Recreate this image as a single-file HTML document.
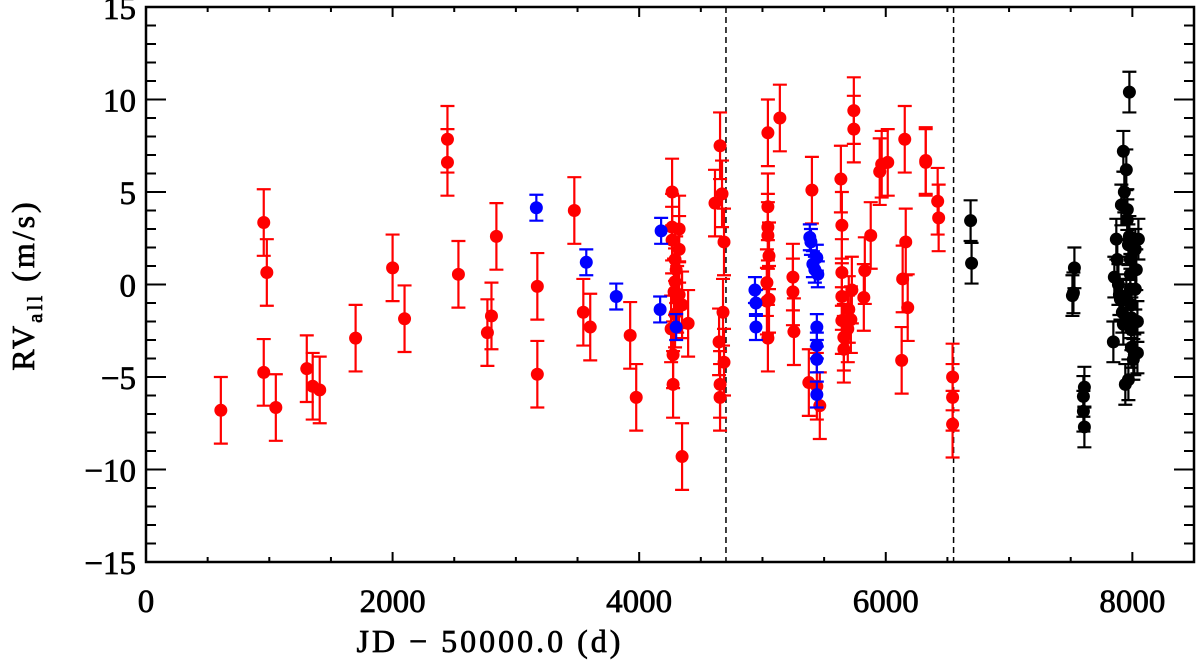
<!DOCTYPE html>
<html><head><meta charset="utf-8"><style>
html,body{margin:0;padding:0;background:#fff;}
svg{display:block;font-family:"Liberation Serif",serif;}
</style></head><body>
<svg id="chart" width="1200" height="665" viewBox="0 0 1200 665"></svg>
<script>
const redD=[607,955,955,980,1053,1304,1352,1409,1700,2000,2097,2445,2445,2534,2769,2802,2842,3174,3174,3474,3547,3603,3927,3976,4267,4267,4267,4291,4300,4291,4283,4308,4291,4275,4275,4259,4324,4324,4324,4348,4348,4397,4615,4656,4672,4688,4680,4648,4688,4656,4656,5036,5036,5044,5044,5044,5044,5044,5053,5053,5141,5247,5247,5255,5401,5376,5441,5465,5636,5644,5644,5644,5644,5660,5660,5692,5700,5717,5741,5741,5725,5822,5830,5878,5951,5967,6016,6137,6129,6154,6162,6178,6324,6324,6421,6429,6542,6542,6542];
const redV=[-6.8,3.35,-4.75,0.65,-6.65,-4.55,-5.5,-5.7,-2.9,0.9,-1.85,7.85,6.6,0.55,-2.6,-1.7,2.6,-4.85,-0.1,4.0,-1.5,-2.3,-2.75,-6.1,5.0,3.1,2.4,1.35,0.8,0.15,-0.4,-0.8,-1.6,-3.8,-5.4,-2.4,3.0,1.9,-0.55,-1.1,-9.3,-2.1,4.4,7.5,4.9,2.3,-1.5,-3.1,-4.2,-5.4,-6.1,0.1,-0.9,-2.9,8.2,4.2,3.1,2.65,1.55,-0.8,9.0,0.4,-0.4,-2.55,5.1,-5.3,-5.5,-6.55,5.7,3.2,0.65,-0.65,-1.95,-3.5,-2.85,-2.4,-1.35,-1.9,9.4,8.4,-0.3,-0.7,0.75,2.65,6.1,6.5,6.6,0.3,-4.1,7.85,2.3,-1.25,6.7,6.6,4.5,3.6,-5.0,-6.1,-7.55];
const redErr=1.8;
const blueD=[3166,3571,3814,4170,4178,4300,4939,4947,4947,5384,5393,5409,5425,5441,5449,5441,5441,5441,5441];
const blueV=[4.15,1.2,-0.65,-1.35,2.9,-2.3,-0.3,-1.0,-2.3,2.55,2.3,1.1,0.8,1.45,0.55,-2.3,-3.3,-4.05,-5.95];
const blueErr=0.7;
const blackD=[6688,6696,7530,7514,7522,7603,7611,7603,7611,7846,7854,7870,7895,7911,7927,7935,7951,7959,7959,7976,7976,7968,7984,7984,7984,7992,7992,7992,7992,7968,7943,8008,8016,8024,8024,8032,8041,8041,7903,7919,7927,7878,7887,8049,7951];
const blackV=[3.45,1.15,0.9,-0.6,-0.45,-6.05,-5.55,-6.85,-7.7,-3.1,0.4,2.45,-0.55,4.3,7.2,5.0,6.2,4.05,3.5,10.4,2.6,2.15,1.35,0.55,-0.25,-1.1,-1.8,-2.45,-3.4,-5.15,-5.4,-4.05,-3.8,1.9,-0.25,0.8,-2.0,-3.7,-0.8,-1.5,-2.15,1.35,0.0,2.45,-0.8];
const blackErr=1.1;
const xTicks=[0,2000,4000,6000,8000];
const yTicks=[-15,-10,-5,0,5,10,15];
const dashedX=[4704,6550];

const L=146,R=1194,T=7,B=562,XMIN=0,XMAX=8500,YMIN=-15,YMAX=15;
const sx=d=>L+(d-XMIN)/(XMAX-XMIN)*(R-L);
const sy=v=>B-(v-YMIN)/(YMAX-YMIN)*(B-T);
const svg=document.getElementById('chart');
const NS='http://www.w3.org/2000/svg';
function mk(tag,attrs,parent){const e=document.createElementNS(NS,tag);for(const k in attrs)e.setAttribute(k,attrs[k]);(parent||svg).appendChild(e);return e;}

dashedX.forEach((d,i)=>{
  const l=mk('line',{x1:sx(d),x2:sx(d),y1:T,y2:B,stroke:'#000','stroke-width':1.5,'stroke-dasharray':'6,4'});
  
  
});

function series(D,V,err,color,name){
  const g=mk('g',{});
  
  
  D.forEach((d,i)=>{
    const x=sx(d),y=V[i];
    const eb=mk('path',{d:`M${x},${sy(y-err)}V${sy(y+err)}M${x-7},${sy(y-err)}H${x+7}M${x-7},${sy(y+err)}H${x+7}`,stroke:color,'stroke-width':2.2,fill:'none'},g);
    
    
  });
  D.forEach((d,i)=>{
    const c=mk('circle',{cx:sx(d),cy:sy(V[i]),r:6.5,fill:color},g);
    
    
  });
}
series(redD,redV,redErr,'#ff0000','red');
series(blueD,blueV,blueErr,'#0000ff','blue');
series(blackD,blackV,blackErr,'#000000','black');

const fr=mk('rect',{x:L,y:T,width:R-L,height:B-T,fill:'none',stroke:'#000','stroke-width':2.5});


for(let d=0;d<=XMAX;d+=500){
  const major=d%2000===0, len=major?10:5;
  mk('path',{d:`M${sx(d)},${B}V${B-len}M${sx(d)},${T}V${T+len}`,stroke:'#000','stroke-width':2});
}
for(let v=YMIN;v<=YMAX;v+=1){
  const major=v%5===0, len=major?20:10;
  mk('path',{d:`M${L},${sy(v)}H${L+len}M${R},${sy(v)}H${R-len}`,stroke:'#000','stroke-width':2});
}
xTicks.forEach(d=>{
  const t=mk('text',{x:sx(d),y:612,'text-anchor':'middle','font-size':33,fill:'#000',stroke:'#000','stroke-width':0.7});
  t.textContent=d;
  
  
});
yTicks.forEach(v=>{
  const t=mk('text',{x:136,y:sy(v)+12,'text-anchor':'end','font-size':33,fill:'#000',stroke:'#000','stroke-width':0.7});
  t.textContent=v<0?'\u2212'+Math.abs(v):v;
  
  
});
const xt=mk('text',{x:490,y:652,'text-anchor':'middle','font-size':32,fill:'#000',stroke:'#000','stroke-width':0.7,'letter-spacing':'3'});
xt.textContent='JD \u2212 50000.0 (d)';


const yt=mk('text',{transform:'translate(34,285) rotate(-90)','text-anchor':'middle','font-size':32,fill:'#000',stroke:'#000','stroke-width':0.7,'letter-spacing':'3'});
yt.innerHTML='RV<tspan font-size="21" dy="8">all</tspan><tspan dy="-8"> (m/s)</tspan>';


</script>
</body></html>
